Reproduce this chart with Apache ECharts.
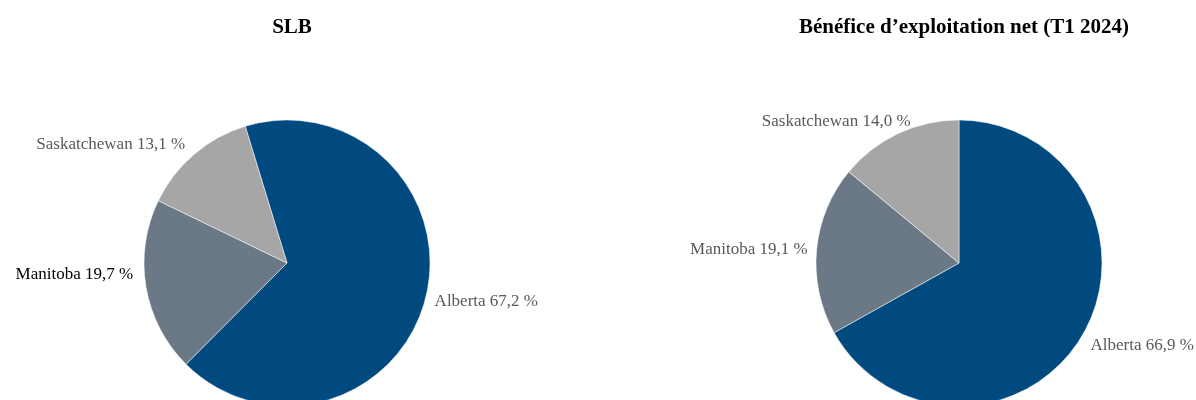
<!DOCTYPE html>
<html><head><meta charset="utf-8">
<script src="https://cdn.jsdelivr.net/npm/echarts@6/dist/echarts.min.js"></script>
<style>html,body{margin:0;padding:0;background:#fff}#c{width:1196px;height:400px}</style>
</head><body><div id="c"></div>
<script>
const titles = ['SLB', 'Bénéfice d’exploitation net (T1 2024)'];
const categories = ['Alberta', 'Manitoba', 'Saskatchewan'];
const slbValues = [67.2, 19.7, 13.1];
const benefitValues = [66.9, 19.1, 14.0];
const colors = ['#004A7F', '#6B7987', '#A6A6A6'];
// label nudges (style only)
const slbLabelShift = [[-2, 3], [-2, -13], [0, -5]];
const benefitLabelShift = [[-2, 7], [2, 0], [20, -7]];

const fmt = p => p.name + ' ' + p.value.toFixed(1).replace('.', ',') + ' %';
function mk(vals, center, startAngle, blackIdx, shifts) {
  return {
    type: 'pie', center: center, radius: 143, startAngle: startAngle, clockwise: true,
    animation: false, avoidLabelOverlap: false,
    data: categories.map((c, i) => ({
      name: c, value: vals[i],
      itemStyle: { color: colors[i] },
      label: Object.assign({ offset: shifts[i] }, i === blackIdx ? { color: '#000' } : {})
    })),
    itemStyle: { borderColor: '#fff', borderWidth: 0.5 },
    label: { show: true, position: 'outside', formatter: fmt, color: '#595959',
      fontFamily: 'Liberation Serif', fontSize: 17, overflow: 'none' },
    labelLine: { show: false, length: 6, length2: 0 },
    emphasis: { disabled: true }
  };
}
const chart = echarts.init(document.getElementById('c'), null, { renderer: 'canvas' });
chart.setOption({
  backgroundColor: '#fff',
  title: [
    { text: titles[0], left: 287, top: 12, textAlign: 'center',
      textStyle: { fontFamily: 'Liberation Serif', fontSize: 21, fontWeight: 'bold', color: '#000' } },
    { text: titles[1], left: 959, top: 12, textAlign: 'center',
      textStyle: { fontFamily: 'Liberation Serif', fontSize: 21, fontWeight: 'bold', color: '#000' } }
  ],
  series: [
    mk(slbValues, [287, 263], 107, 1, slbLabelShift),
    mk(benefitValues, [959, 263], 90, -1, benefitLabelShift)
  ]
});
</script></body></html>
